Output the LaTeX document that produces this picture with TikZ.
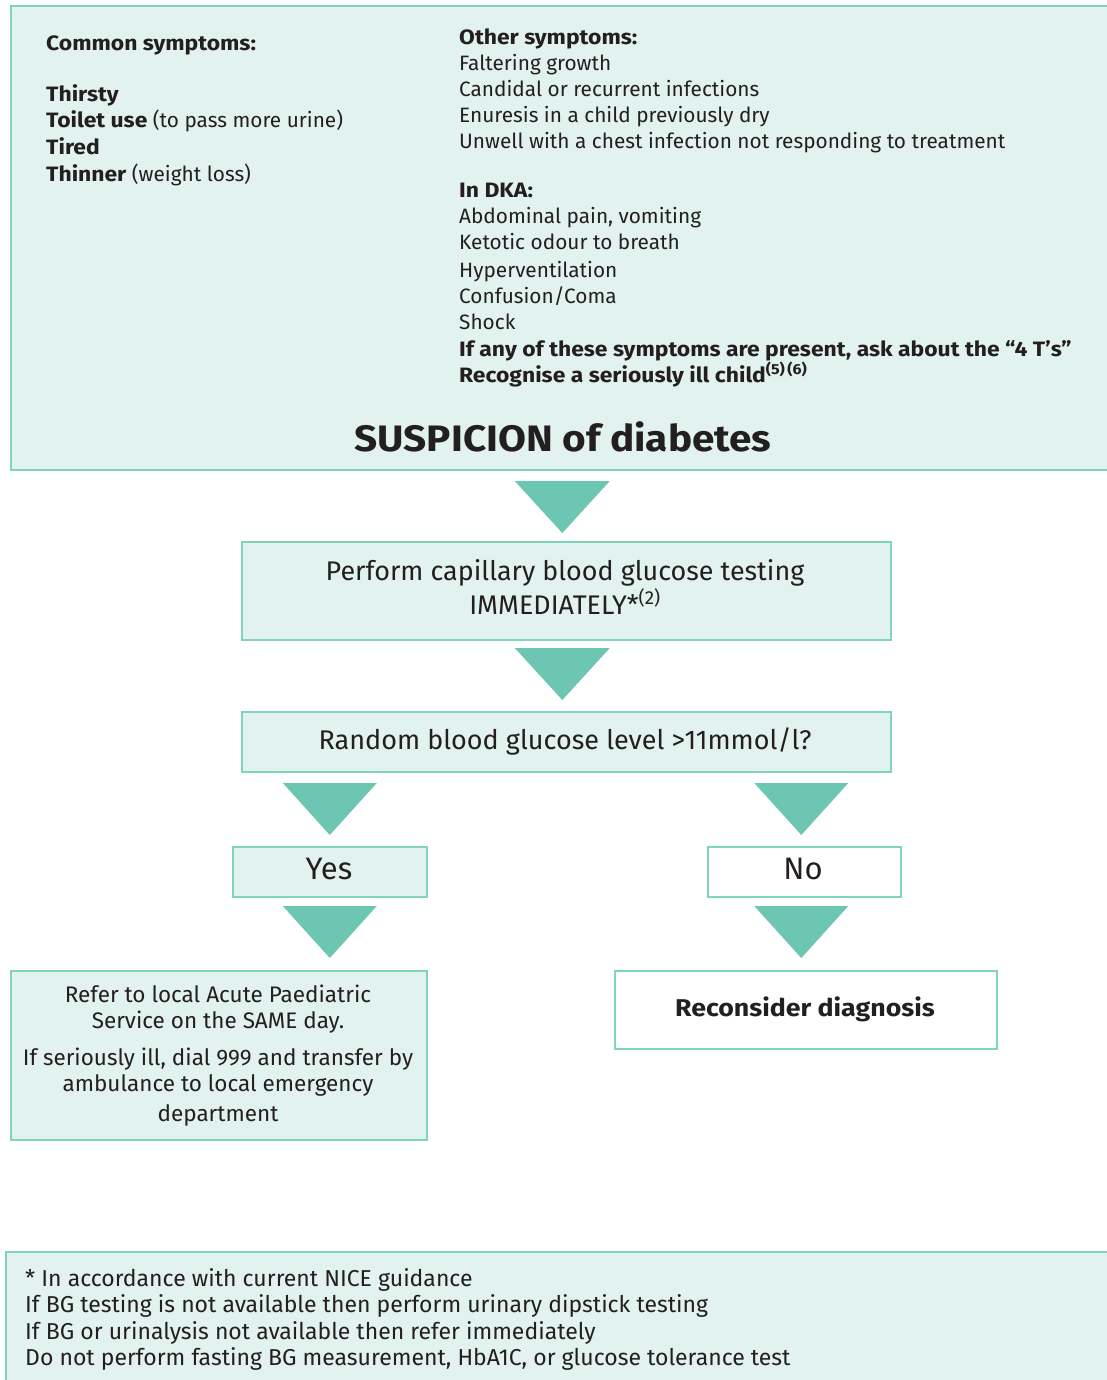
\documentclass[tikz,border=0pt]{standalone}
\usepackage{fontspec}
\setmainfont{Fira Sans}[BoldFeatures={FakeStretch=1.1}]
\usetikzlibrary{calc}
\definecolor{boxfill}{HTML}{E2F2EE}
\definecolor{boxline}{HTML}{7FD4C0}
\definecolor{trifill}{HTML}{6CC6B1}
\definecolor{ink}{HTML}{231F20}
\begin{document}
\begin{tikzpicture}[x=1pt,y=-1pt,
  box/.style={draw=boxline, line width=1.6pt, fill=boxfill, inner sep=0pt, anchor=north west},
  wbox/.style={box, fill=white},
  tl/.style={anchor=base west, inner sep=0pt, text=ink, font=\fontsize{20.8}{24}\selectfont},
  tc/.style={anchor=base, inner sep=0pt, text=ink, font=\fontsize{22.5}{26}\selectfont},
  tri/.style={fill=trifill}]
\useasboundingbox[fill=white] (0,0) rectangle (1107,1380);

% boxes
\node[box, minimum width=1120, minimum height=464] (top) at (10,5) {};
\node[box, minimum width=649, minimum height=98] (b2) at (241,541) {};
\node[box, minimum width=649, minimum height=60] (b3) at (241,711) {};
\node[box, minimum width=194, minimum height=50] (yes) at (232,846) {};
\node[wbox, minimum width=193, minimum height=50] (no) at (707,846) {};
\node[box, minimum width=416, minimum height=169] (refer) at (10,970) {};
\node[wbox, minimum width=382, minimum height=78] (recon) at (614,970) {};
\node[box, minimum width=1120, minimum height=160] (foot) at (5,1251) {};

% left column
\node[tl] (cs) at (46,51) {\textbf{Common symptoms:}};
\node[tl] (c1) at (46,102) {\textbf{Thirsty}};
\node[tl] (c2) at (46,128) {\textbf{Toilet use} (to pass more urine)};
\node[tl] (c3) at (46,155) {\textbf{Tired}};
\node[tl] (c4) at (46,182) {\textbf{Thinner} (weight loss)};

% right column
\node[tl] (o0) at (459,45) {\textbf{Other symptoms:}};
\node[tl] (o1) at (459,71) {Faltering growth};
\node[tl] (o2) at (459,97) {Candidal or recurrent infections};
\node[tl] (o3) at (459,123) {Enuresis in a child previously dry};
\node[tl] (o4) at (459,149) {Unwell with a chest infection not responding to treatment};
\node[tl] (d0) at (459,198) {\textbf{In DKA:}};
\node[tl] (d1) at (459,224) {Abdominal pain, vomiting};
\node[tl] (d2) at (459,250) {Ketotic odour to breath};
\node[tl] (d3) at (459,277) {Hyperventilation};
\node[tl] (d4) at (459,303) {Confusion/Coma};
\node[tl] (d5) at (459,329) {Shock};
\node[tl] (d6) at (459,356) {\textbf{If any of these symptoms are present, ask about the “4 T’s”}};
\node[tl] (d7) at (459,382) {\textbf{Recognise a seriously ill child\textsuperscript{(5)\,(6)}}};

\node[tc, font=\fontsize{36.8}{44}\selectfont\bfseries] (susp) at (563,451) {SUSPICION of diabetes};

% box texts
\node[tc, font=\fontsize{26.9}{30}\selectfont] (p1) at (565,580) {Perform capillary blood glucose testing};
\node[tc, font=\fontsize{26.9}{30}\selectfont] (p2) at (565,614) {IMMEDIATELY*\textsuperscript{(2)}};
\node[tc, font=\fontsize{27}{30}\selectfont] (r1) at (565,749) {Random blood glucose level >11mmol/l?};
\node[tc, font=\fontsize{31}{34}\selectfont] (yt) at (329,879) {Yes};
\node[tc, font=\fontsize{31}{34}\selectfont] (nt) at (803,879) {No};
\node[tc] (f1) at (218,1002) {Refer to local Acute Paediatric};
\node[tc] (f2) at (218,1028) {Service on the SAME day.};
\node[tc] (f3) at (218,1065) {If seriously ill, dial 999 and transfer by};
\node[tc] (f4) at (218,1091) {ambulance to local emergency};
\node[tc] (f5) at (218,1121) {department};
\node[tc, font=\fontsize{24.3}{28}\selectfont\bfseries] (rt) at (805,1016) {Reconsider diagnosis};

% footnote
\node[tl, font=\fontsize{23}{26}\selectfont] (n1) at (25,1286) {* In accordance with current NICE guidance};
\node[tl, font=\fontsize{23}{26}\selectfont] (n2) at (25,1312) {If BG testing is not available then perform urinary dipstick testing};
\node[tl, font=\fontsize{23}{26}\selectfont] (n3) at (25,1339) {If BG or urinalysis not available then refer immediately};
\node[tl, font=\fontsize{23}{26}\selectfont] (n4) at (25,1365) {Do not perform fasting BG measurement, HbA1C, or glucose tolerance test};

% triangle connectors
\fill[tri] ($(b2.north)+(-51.5,-60)$) -- ($(b2.north)+(43.5,-60)$) -- ($(b2.north)+(-4,-8)$) -- cycle;
\fill[tri] ($(b3.north)+(-51.5,-63)$) -- ($(b3.north)+(43.5,-63)$) -- ($(b3.north)+(-4,-11)$) -- cycle;
\fill[tri] ($(yes.north)+(-47,-63)$) -- ($(yes.north)+(47,-63)$) -- ($(yes.north)+(0,-11)$) -- cycle;
\fill[tri] ($(no.north)+(-50,-63)$) -- ($(no.north)+(44,-63)$) -- ($(no.north)+(-3,-11)$) -- cycle;
\fill[tri] ($(refer.north -| yes.south)+(-47,-64)$) -- ($(refer.north -| yes.south)+(47,-64)$) -- ($(refer.north -| yes.south)+(0,-12)$) -- cycle;
\fill[tri] ($(recon.north -| no.south)+(-50,-64)$) -- ($(recon.north -| no.south)+(44,-64)$) -- ($(recon.north -| no.south)+(-3,-12)$) -- cycle;
\end{tikzpicture}
\end{document}
